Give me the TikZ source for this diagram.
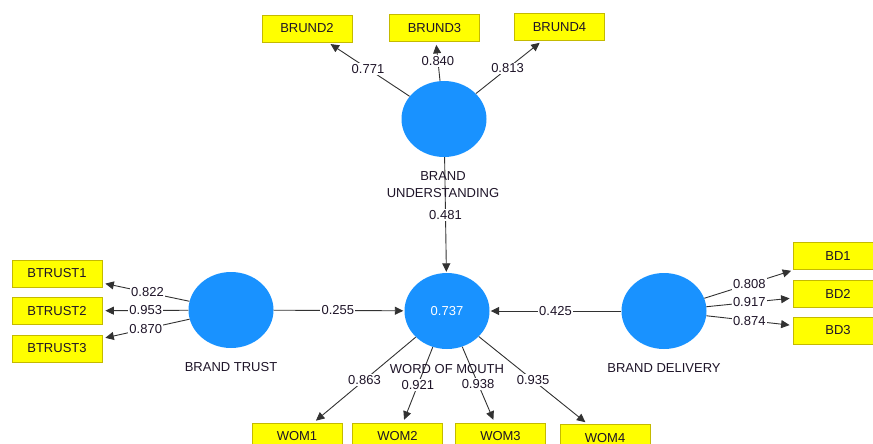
\documentclass[tikz,border=0pt]{standalone}
\usepackage{fontspec}
\setmainfont{Liberation Sans}
\usetikzlibrary{arrows.meta,shapes.geometric}
\definecolor{lvblue}{RGB}{25,146,255}
\definecolor{indyellow}{RGB}{255,255,0}
\definecolor{indborder}{RGB}{196,186,0}
\definecolor{linegray}{RGB}{50,50,50}
\definecolor{txt}{RGB}{30,20,40}

\begin{document}
\begin{tikzpicture}[x=1pt,y=-1pt,
  font=\fontsize{13}{16.5}\selectfont,
  latent/.style={ellipse, fill=lvblue, draw=none, minimum width=85pt,
    minimum height=76pt, inner sep=0pt},
  indicator/.style={rectangle, fill=indyellow, draw=indborder, line width=0.8pt,
    minimum width=90pt, minimum height=27pt, inner sep=0pt, text=txt},
  loading/.style={draw=linegray, line width=0.9pt,
    -{Triangle[length=8.5pt,width=8pt]}, shorten >=3pt},
  path/.style={draw=linegray, line width=0.9pt,
    -{Triangle[length=8.5pt,width=8pt]}, shorten >=1pt},
  weight/.style={fill=white, inner sep=1.2pt, text=txt},
  cname/.style={align=center, text=txt}]

\useasboundingbox (0,0) rectangle (873,444);
\clip (0,0) rectangle (873,444);

% latent variables
\node[latent] (bu) at (444,119) {};
\node[latent] (bt) at (231,310) {};
\node[latent, text=white] (wom) at (447,311) {0.737};
\node[latent] (bd) at (664,311) {};

% indicators
\node[indicator] (brund2) at (307,28.5) {BRUND2};
\node[indicator] (brund3) at (434.5,28) {BRUND3};
\node[indicator] (brund4) at (559.5,27) {BRUND4};
\node[indicator] (btrust1) at (57,273.5) {BTRUST1};
\node[indicator] (btrust2) at (57,311) {BTRUST2};
\node[indicator] (btrust3) at (57,348.5) {BTRUST3};
\node[indicator] (bd1) at (838,256) {BD1};
\node[indicator] (bd2) at (838,293.5) {BD2};
\node[indicator] (bd3) at (838,330.5) {BD3};
\node[indicator] (wom1) at (297,436.5) {WOM1};
\node[indicator] (wom2) at (397.5,436.5) {WOM2};
\node[indicator] (wom3) at (500.5,436.5) {WOM3};
\node[indicator] (wom4) at (605,438) {WOM4};

% outer loadings
\draw[loading] (bu) -- (brund2);
\draw[loading] (bu) -- (brund3);
\draw[loading] (bu) -- (brund4);
\draw[loading] (bt) -- (btrust1);
\draw[loading] (bt) -- (btrust2);
\draw[loading] (bt) -- (btrust3);
\draw[loading] (bd) -- (bd1);
\draw[loading] (bd) -- (bd2);
\draw[loading] (bd) -- (bd3);
\draw[loading] (wom) -- (wom1);
\draw[loading] (wom) -- (wom2);
\draw[loading] (wom) -- (wom3);
\draw[loading] (wom) -- (wom4);

% structural paths
\draw[path] (bu) -- (wom);
\draw[path] (bt) -- (wom);
\draw[path] (bd) -- (wom);

% coefficients
\path (bu.center) -- (brund2.center) node[weight,pos=0.555] {0.771};
\path (bu.center) -- (brund3.center) node[weight,pos=0.64] {0.840};
\path (bu.center) -- (brund4.center) node[weight,pos=0.55] {0.813};
\path (bt.center) -- (btrust1.center) node[weight,pos=0.48] {0.822};
\path (bt.center) -- (btrust2.center) node[weight,pos=0.49] {0.953};
\path (bt.center) -- (btrust3.center) node[weight,pos=0.49] {0.870};
\path (bd.center) -- (bd1.center) node[weight,pos=0.49] {0.808};
\path (bd.center) -- (bd2.center) node[weight,pos=0.49] {0.917};
\path (bd.center) -- (bd3.center) node[weight,pos=0.49] {0.874};
\path (wom.center) -- (wom1.center) node[weight,pos=0.55] {0.863};
\path (wom.center) -- (wom2.center) node[weight,pos=0.59] {0.921};
\path (wom.center) -- (wom3.center) node[weight,pos=0.58] {0.938};
\path (wom.center) -- (wom4.center) node[weight,pos=0.545] {0.935};
\path (bu.center) -- (wom.center) node[weight,pos=0.5] {0.481};
\path (bt.center) -- (wom.center) node[weight,pos=0.495] {0.255};
\path (bd.center) -- (wom.center) node[weight,pos=0.5] {0.425};

% construct names
\node[cname] (nbu) at (443,184.5) {BRAND\\UNDERSTANDING};
\node[cname] (nbt) at (231,367) {BRAND TRUST};
\node[cname] (nwom) at (447,369) {WORD OF MOUTH};
\node[cname] (nbd) at (664,368) {BRAND DELIVERY};
\end{tikzpicture}
\end{document}
